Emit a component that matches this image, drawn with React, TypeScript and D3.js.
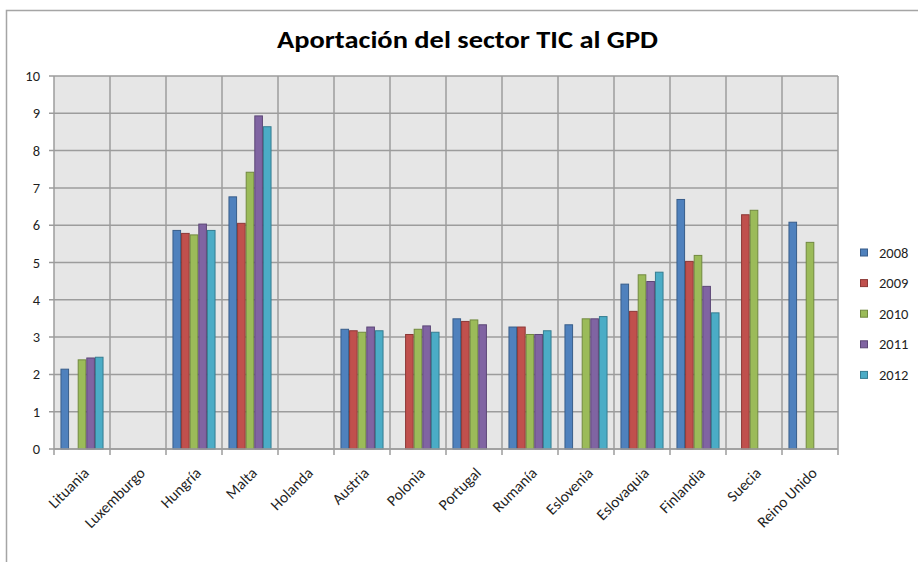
import React, { useRef, useEffect } from "react";
import * as d3 from "d3";

const countries = [
  "Lituania", "Luxemburgo", "Hungría", "Malta", "Holanda", "Austria", "Polonia",
  "Portugal", "Rumanía", "Eslovenia", "Eslovaquia", "Finlandia", "Suecia", "Reino Unido",
];
const years = ["2008", "2009", "2010", "2011", "2012"];

// one array per year, null where there is no value
const v2008 = [2.14, null, 5.86, 6.76, null, 3.21, null, 3.49, 3.27, 3.33, 4.42, 6.69, null, 6.08];
const v2009 = [null, null, 5.78, 6.05, null, 3.17, 3.07, 3.42, 3.27, null, 3.69, 5.03, 6.28, null];
const v2010 = [2.39, null, 5.74, 7.42, null, 3.13, 3.21, 3.46, 3.07, 3.49, 4.67, 5.19, 6.4, 5.54];
const v2011 = [2.44, null, 6.03, 8.93, null, 3.27, 3.3, 3.33, 3.07, 3.49, 4.49, 4.36, null, null];
const v2012 = [2.46, null, 5.86, 8.64, null, 3.17, 3.13, null, 3.17, 3.55, 4.74, 3.65, null, null];

const yTicks = [0, 1, 2, 3, 4, 5, 6, 7, 8, 9, 10];
const fills = ["#4F81BD", "#C0504D", "#9BBB59", "#8064A2", "#4BACC6"];
const strokes = ["#385D8A", "#8C3836", "#71893F", "#5C4776", "#357D91"];

const font = "Calibri, Carlito, Lato, 'Open Sans', sans-serif";

export default function App() {
  const svgRef = useRef<SVGSVGElement>(null);

  useEffect(() => {
    document.body.style.margin = "0";
    const width = 918;
    const height = 562;
    const marginLeft = 54;
    const marginRight = 80;
    const marginTop = 76;
    const plotBottom = 449;

    const series = [v2008, v2009, v2010, v2011, v2012];
    const data = countries.flatMap((c, i) =>
      years.map((y, j) => ({ country: c, year: y, value: series[j][i], k: j }))
    ).filter(d => d.value != null);

    const x0 = d3.scaleBand().domain(countries).range([marginLeft, width - marginRight]).paddingInner(0);
    const x1 = d3.scaleBand().domain(years).range([0, x0.bandwidth()]).paddingInner(0).paddingOuter(0.75);
    const y = d3.scaleLinear().domain([0, 10]).range([plotBottom, marginTop]);

    const svg = d3.select(svgRef.current)
      .attr("width", width)
      .attr("height", height)
      .attr("viewBox", [0, 0, width, height]);
    svg.selectAll("*").remove();

    svg.append("rect").attr("width", width).attr("height", height).attr("fill", "#fff");

    // outer chart border (top and left visible)
    svg.append("path")
      .attr("d", `M6.5,${height} V10.5 H${width}`)
      .attr("fill", "none")
      .attr("stroke", "#A5A5A5")
      .attr("stroke-width", 1.5);

    // title
    svg.append("text")
      .attr("x", (277 + 658) / 2)
      .attr("y", 48)
      .attr("text-anchor", "middle")
      .attr("font-family", font)
      .attr("font-weight", "bold")
      .attr("font-size", 25)
      .attr("textLength", 381)
      .attr("lengthAdjust", "spacingAndGlyphs")
      .attr("fill", "#000")
      .text("Aportación del sector TIC al GPD");

    // plot background
    svg.append("rect")
      .attr("x", marginLeft)
      .attr("y", marginTop)
      .attr("width", width - marginRight - marginLeft)
      .attr("height", plotBottom - marginTop)
      .attr("fill", "#E6E6E6");

    const grid = "#9C9C9C";
    // horizontal gridlines + y ticks
    svg.append("g")
      .selectAll("line")
      .data(yTicks)
      .join("line")
      .attr("x1", marginLeft - 5)
      .attr("x2", width - marginRight)
      .attr("y1", d => y(d))
      .attr("y2", d => y(d))
      .attr("stroke", grid)
      .attr("stroke-width", 1.5);

    // vertical gridlines at category boundaries, extended as tick marks
    const bounds = countries.map(c => x0(c)!).concat([x0.range()[1]]);
    svg.append("g")
      .selectAll("line")
      .data(bounds)
      .join("line")
      .attr("x1", d => d)
      .attr("x2", d => d)
      .attr("y1", marginTop)
      .attr("y2", plotBottom + 6)
      .attr("stroke", grid)
      .attr("stroke-width", 1.5);

    // y labels
    svg.append("g")
      .selectAll("text")
      .data(yTicks)
      .join("text")
      .attr("x", 40)
      .attr("y", d => y(d))
      .attr("dy", "0.35em")
      .attr("text-anchor", "end")
      .attr("font-family", font)
      .attr("font-size", 14.5)
      .attr("fill", "#1F1F1F")
      .text(d => d);

    // bars
    svg.append("g")
      .selectAll("rect")
      .data(data)
      .join("rect")
      .attr("x", d => x0(d.country)! + x1(d.year)! + 0.5)
      .attr("y", d => y(d.value as number))
      .attr("width", x1.bandwidth() - 1)
      .attr("height", d => plotBottom - y(d.value as number))
      .attr("fill", d => fills[d.k])
      .attr("stroke", d => strokes[d.k])
      .attr("stroke-width", 1);

    // x axis line
    svg.append("line")
      .attr("x1", marginLeft)
      .attr("x2", width - marginRight)
      .attr("y1", plotBottom)
      .attr("y2", plotBottom)
      .attr("stroke", grid)
      .attr("stroke-width", 1.5);

    // x labels
    svg.append("g")
      .selectAll("text")
      .data(countries)
      .join("text")
      .attr("transform", d => `translate(${x0(d)! + x0.bandwidth() / 2 + 8},${plotBottom + 25}) rotate(-45)`)
      .attr("text-anchor", "end")
      .attr("font-family", font)
      .attr("font-size", 15.5)
      .attr("fill", "#1F1F1F")
      .text(d => d);

    // legend
    const legend = svg.append("g")
      .selectAll("g")
      .data(years)
      .join("g")
      .attr("transform", (d, i) => `translate(864,${252.5 + i * 30.6})`);
    legend.append("rect")
      .attr("x", -3.5)
      .attr("y", -3.5)
      .attr("width", 7)
      .attr("height", 7)
      .attr("fill", (d, i) => fills[i])
      .attr("stroke", (d, i) => strokes[i]);
    legend.append("text")
      .attr("x", 15)
      .attr("dy", "0.35em")
      .attr("font-family", font)
      .attr("font-size", 14.5)
      .attr("fill", "#1F1F1F")
      .text(d => d);
  }, []);

  return (
    <div>
      <svg ref={svgRef} style={{ display: "block" }}></svg>
    </div>
  );
}
